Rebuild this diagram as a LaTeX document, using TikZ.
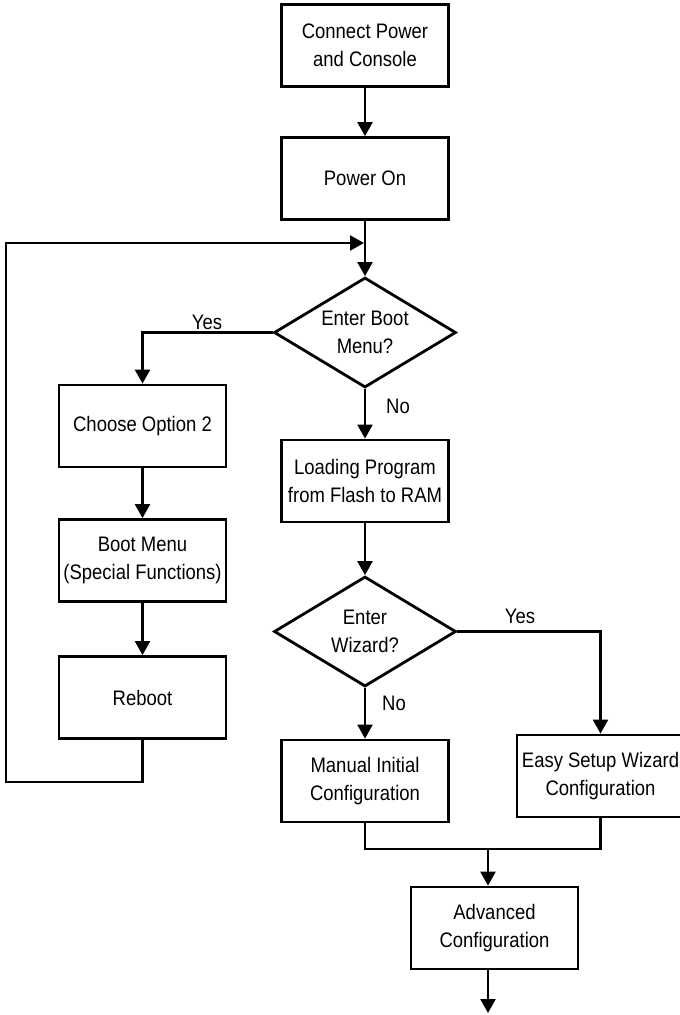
\documentclass[tikz,border=0pt]{standalone}
\usepackage{fontspec}
\setmainfont{Liberation Sans}[FakeStretch=0.88]
\usetikzlibrary{shapes.geometric, arrows.meta}
\tikzset{
	every box/.style={
		rectangle,
		draw,
		line width=2.8pt,
		minimum width=167pt,
		minimum height=82pt,
		inner sep=0pt,
		align=center
	},
	every test/.style={
		diamond,
		draw,
		line width=2.8pt,
		minimum width=182pt,
		minimum height=110pt,
		aspect=1.65,
		inner sep=0pt,
		align=center
	},
	flow/.style={line width=2.3pt},
	answer/.style={inner sep=0pt},
}

\begin{document}
\begin{tikzpicture}[x=1pt, y=-1pt, >={Triangle[length=14pt,width=15pt]},
	font=\fontsize{21}{27.5}\selectfont]
\useasboundingbox (0,0) rectangle (680,1015);

% main column
\node [every box] (connect) at (365,45.5) {Connect Power\\and Console};
\node [every box] (poweron) at (365,178.5) {Power On};
\node [every test] (bootq) at (365,332.5) {Enter Boot\\Menu?};
\node [every box] (loading) at (365,481) {Loading Program\\from Flash to RAM};
\node [every test] (wizardq) at (365,631.5) {Enter\\Wizard?};
\node [every box] (manual) at (365,781) {Manual Initial\\Configuration};
\node [every box] (easy) at (600.5,776) {Easy Setup Wizard\\Configuration};
\node [every box] (advanced) at (494.5,928) {Advanced\\Configuration};

% boot menu column
\node [every box] (choose) at (142.5,426) {Choose Option 2};
\node [every box] (bootmenu) at (142.5,560.5) {Boot Menu\\(Special Functions)};
\node [every box] (reboot) at (142.5,697.5) {Reboot};

\coordinate (join) at (364,243);
\coordinate (loopend) at (6,782);
\coordinate (merge) at (488,849);
\coordinate (exit) at (488,1013);

\foreach \a/\b in {connect/poweron, poweron/bootq, bootq/loading, loading/wizardq,
	wizardq/manual, choose/bootmenu, bootmenu/reboot}
	\draw [flow, ->] (\a) -- (\b);

\draw [flow, ->] (bootq.west) -| (choose.north);
\draw [flow, ->] (wizardq.east) -| (easy.north);
\draw [flow, ->] (reboot.south) |- (loopend) |- (join);
\draw [flow] (manual.south) |- (merge) -| (easy.south);
\draw [flow, ->] (merge) -- (merge |- advanced.north);
\draw [flow, ->] (advanced.south -| merge) -- (exit);

\node [answer] (yes1) at (207,322) {Yes};
\node [answer] (no1) at (398,406) {No};
\node [answer] (yes2) at (520,616) {Yes};
\node [answer] (no2) at (394,703) {No};

\end{tikzpicture}
\end{document}
